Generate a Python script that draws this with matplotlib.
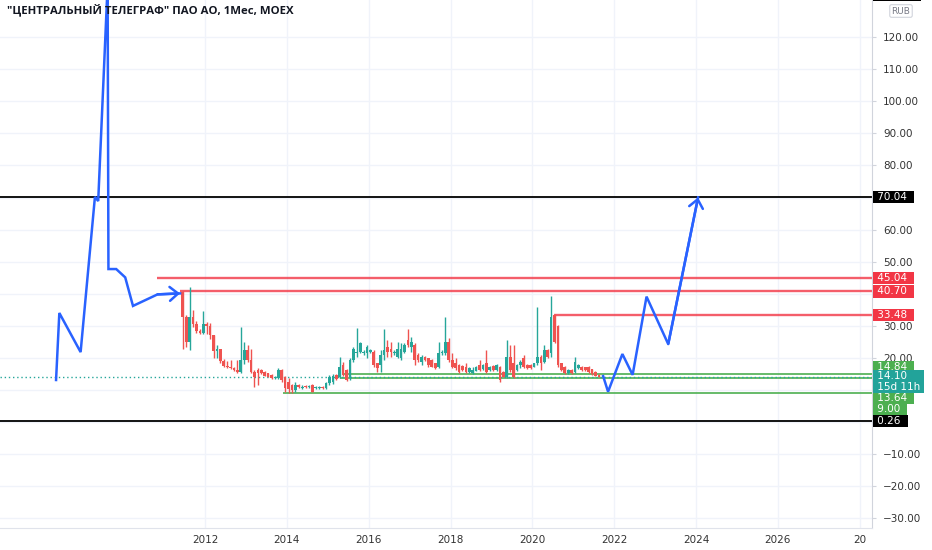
import matplotlib
matplotlib.use("Agg")
import matplotlib.pyplot as plt
import pandas as pd
from matplotlib.ticker import FuncFormatter

TITLE = '"ЦЕНТРАЛЬНЫЙ ТЕЛЕГРАФ" ПАО АО, 1Мес, MOEX'

# monthly candles, Jun 2011 .. Aug 2021
months = pd.date_range("2011-06-01", "2021-08-01", freq="MS")
opens = [40.5, 32.8, 25.0, 32.8, 30.5, 28.5, 27.8, 30.5, 29.8, 27.0,
         22.0, 22.8, 18.9, 17.6, 17.3, 16.9, 16.2, 15.7, 19.3, 22.4,
         19.3, 15.7, 16.2, 16.2, 15.7, 15.2, 14.7, 13.6, 13.6, 16.2,
         14.1, 12.6, 11.5, 10.0, 11.5, 10.6, 11.3, 10.8, 11.5, 10.5,
         10.6, 11.0, 10.5, 12.1, 12.4, 14.7, 14.1, 17.8, 16.2, 13.6,
         19.3, 21.4, 21.9, 21.4, 21.4, 21.9, 21.9, 18.3, 17.8, 20.9,
         23.5, 22.9, 21.4, 20.4, 19.9, 21.9, 25.6, 23.5, 24.0, 20.9,
         18.8, 20.4, 19.9, 19.3, 18.3, 17.3, 21.4, 21.4, 25.0, 19.3,
         18.3, 17.8, 17.6, 17.3, 15.7, 15.2, 16.0, 17.8, 16.5, 18.3,
         16.2, 17.5, 16.2, 17.3, 15.7, 14.1, 20.4, 18.3, 16.2, 17.8,
         19.9, 17.8, 17.8, 17.3, 18.3, 20.4, 18.8, 22.4, 21.4, 33.4,
         30.0, 18.3, 17.3, 15.2, 16.2, 15.7, 16.7, 17.3, 17.0, 17.3,
         16.4, 15.7, 14.7]
highs = [40.7, 33.5, 42.2, 34.9, 31.5, 29.0, 34.5, 31.2, 31.0, 27.2,
         24.0, 22.8, 19.5, 19.0, 19.3, 17.3, 19.3, 29.7, 25.0, 24.0,
         22.9, 16.2, 16.7, 16.4, 16.0, 15.4, 15.0, 14.4, 16.7, 16.4,
         14.5, 13.6, 11.8, 12.6, 11.8, 11.4, 11.5, 11.5, 11.8, 11.2,
         11.3, 11.3, 12.4, 14.6, 14.9, 15.0, 20.4, 18.8, 16.5, 19.9,
         23.5, 29.4, 25.0, 22.4, 24.0, 22.9, 22.4, 18.5, 22.4, 29.1,
         25.6, 25.0, 22.4, 25.0, 24.5, 24.5, 29.0, 26.6, 24.5, 21.4,
         20.9, 20.6, 20.1, 19.5, 18.5, 25.0, 22.4, 32.7, 26.1, 21.4,
         19.9, 18.0, 17.8, 18.3, 17.0, 17.3, 17.5, 19.3, 18.0, 22.4,
         17.5, 17.8, 18.0, 17.5, 16.0, 25.6, 24.0, 24.0, 18.0, 19.3,
         20.9, 18.0, 18.0, 18.5, 35.9, 20.9, 24.0, 22.9, 39.3, 33.6,
         30.3, 18.5, 17.5, 16.5, 16.4, 20.2, 18.0, 17.5, 17.3, 17.5,
         16.5, 15.8, 14.9]
lows = [22.9, 23.5, 22.4, 29.5, 27.8, 27.3, 27.3, 27.6, 26.0, 20.0,
        20.0, 18.3, 17.0, 16.9, 16.5, 15.8, 15.2, 15.2, 18.0, 18.8,
        15.2, 11.0, 11.5, 15.0, 14.2, 13.9, 13.4, 13.4, 13.4, 12.6,
        9.5, 9.0, 9.2, 9.5, 10.5, 10.4, 10.5, 10.6, 9.3, 10.3,
        10.4, 10.3, 10.3, 11.6, 12.0, 13.0, 13.6, 14.2, 12.8, 13.1,
        18.8, 20.4, 21.4, 21.0, 19.9, 21.4, 17.3, 15.7, 15.7, 19.3,
        20.4, 20.4, 20.9, 19.9, 19.3, 21.4, 23.5, 21.9, 17.8, 18.8,
        17.8, 19.0, 17.3, 17.0, 16.4, 16.7, 20.9, 20.9, 18.8, 16.7,
        16.2, 15.2, 16.0, 15.2, 15.4, 15.0, 15.8, 16.0, 16.3, 15.2,
        16.0, 16.0, 16.0, 12.6, 13.9, 13.6, 15.7, 13.6, 16.0, 16.7,
        16.7, 16.5, 16.5, 17.1, 17.8, 16.2, 18.3, 19.9, 20.4, 24.5,
        17.3, 16.0, 15.0, 15.0, 15.0, 15.2, 16.5, 16.0, 16.0, 15.4,
        14.7, 14.2, 13.9]
closes = [32.8, 25.0, 32.8, 30.5, 28.5, 27.8, 30.5, 29.8, 27.0, 22.0,
          22.8, 18.9, 17.6, 17.3, 16.9, 16.2, 15.7, 19.3, 22.4, 19.3,
          15.7, 14.1, 15.2, 15.2, 14.5, 14.1, 13.6, 14.1, 16.2, 13.1,
          10.5, 10.3, 10.0, 11.5, 11.0, 11.0, 10.8, 11.2, 9.5, 11.0,
          11.0, 10.5, 12.1, 14.1, 14.5, 13.3, 17.0, 14.7, 13.1, 19.3,
          22.9, 21.9, 24.5, 21.9, 23.5, 22.4, 17.8, 16.7, 20.9, 22.4,
          21.9, 21.9, 21.9, 22.9, 22.9, 23.9, 24.0, 25.0, 19.3, 19.3,
          20.4, 19.3, 17.8, 17.3, 16.7, 21.4, 21.9, 25.0, 19.3, 17.3,
          16.7, 15.7, 16.2, 15.7, 16.7, 16.2, 17.3, 16.2, 17.8, 15.7,
          17.3, 16.2, 17.8, 13.1, 14.1, 20.4, 16.2, 14.1, 17.8, 18.8,
          17.3, 16.7, 16.7, 18.3, 20.4, 18.3, 22.4, 20.4, 32.8, 25.0,
          17.8, 16.2, 15.2, 16.2, 15.2, 18.8, 17.8, 16.2, 16.2, 15.7,
          15.0, 14.5, 14.1]

# hand-drawn projection path (decimal years, price)
past_x = [2008.36, 2008.44, 2008.96, 2009.31, 2009.39, 2009.62, 2009.64,
          2009.83, 2010.05, 2010.24, 2010.84, 2011.39]
past_y = [13.1, 34.0, 21.8, 70.2, 68.9, 136.3, 47.7, 47.7, 45.1, 36.2,
          39.8, 40.1]
fut_x = [2021.73, 2021.85, 2022.20, 2022.45, 2022.79, 2023.32, 2024.05]
fut_y = [14.3, 9.45, 21.2, 14.7, 39.1, 24.3, 70.04]

# horizontal levels
black_levels = [70.04, 0.26]
red_levels = [45.04, 40.70, 33.48]
red_start = [2010.83, 2011.39, 2020.54]
green_levels = [14.84, 13.64, 9.00]
green_start = [2015.35, 2015.30, 2013.90]
last_price = 14.10

year_ticks = [2012, 2014, 2016, 2018, 2020, 2022, 2024, 2026, 2028]
year_labels = ["2012", "2014", "2016", "2018", "2020", "2022", "2024", "2026", "20"]
price_ticks = [120, 110, 100, 90, 80, 70, 60, 50, 40, 30, 20, 10, 0, -10, -20, -30]
hidden_ticks = [70, 40, 10, 0]  # covered by the level tags

UP = "#26a69a"
DOWN = "#ef5350"
RED = "#f23645"
GREEN = "#4caf50"
BLUE = "#2962ff"

x0, x1 = 2006.99, 2028.30
y0, y1 = -33.05, 131.6


def price_fmt(v, pos):
    if round(v) in hidden_ticks:
        return ""
    return f"{v:.2f}".replace("-", "\u2212")


fig = plt.figure(figsize=(9.32, 5.5), dpi=100)
ax = fig.add_axes([0, 22 / 550, 872 / 932, 528 / 550])
ax.set_xlim(x0, x1)
ax.set_ylim(y0, y1)

ax.set_xticks(year_ticks)
ax.set_xticklabels(year_labels)
ax.set_yticks(price_ticks)
ax.grid(True, color="#f0f3fa", lw=1)
ax.set_axisbelow(True)

ax.yaxis.tick_right()
ax.yaxis.set_major_formatter(FuncFormatter(price_fmt))
ax.tick_params(axis="y", length=3, color="#d1d4dc", labelsize=7.5, labelcolor="#333333", pad=5)
ax.tick_params(axis="x", length=0, labelsize=7.5, labelcolor="#333333", pad=5)
for s in ["top", "left"]:
    ax.spines[s].set_visible(False)
ax.spines["right"].set_color("#d1d4dc")
ax.spines["bottom"].set_color("#e0e3eb")

# candles
xs = [d.year + (d.month - 0.5) / 12 for d in months]
cols = [UP if c >= o else DOWN for o, c in zip(opens, closes)]
ax.vlines(xs, lows, highs, colors=cols, lw=1.0, zorder=3)
ax.bar(xs, [c - o for o, c in zip(opens, closes)], bottom=opens, width=0.066,
       color=cols, zorder=3)

# levels
for v in black_levels:
    ax.axhline(v, color="black", lw=1.3, zorder=2)
for v, s in zip(red_levels, red_start):
    ax.hlines(v, s, x1, color=RED, lw=1.7, alpha=0.8, zorder=2)
for v, s in zip(green_levels, green_start):
    ax.hlines(v, s, x1, color=GREEN, lw=1.4, alpha=0.85, zorder=2)
ax.axhline(last_price, color=UP, lw=1, ls=(0, (1, 2)), zorder=2)

# drawn path with arrowheads
for px, py in [(past_x, past_y), (fut_x, fut_y)]:
    ax.plot(px, py, color=BLUE, lw=1.8, zorder=4, solid_joinstyle="miter")
    ax.annotate("", xy=(px[-1], py[-1]), xytext=(px[-2], py[-2]),
                arrowprops=dict(arrowstyle="->,head_length=0.6,head_width=0.5",
                                color=BLUE, lw=1.8, shrinkA=0, shrinkB=0),
                zorder=5)

# price tags on the scale
tags = [
    (70.04, "70.04", "black", 0),
    (45.04, "45.04", RED, 0),
    (40.70, "40.70", RED, 0),
    (33.48, "33.48", RED, 0),
    (14.84, "14.84", GREEN, 5.5),
    (13.64, "13.64", GREEN, -14.3),
    (9.00, "9.00", GREEN, -11.6),
    (0.26, "0.26", "black", 0),
]
for v, t, c, dy in tags:
    ax.annotate(f" {t}  ", xy=(1, v), xycoords=("axes fraction", "data"),
                xytext=(1.2, dy), textcoords="offset points", ha="left", va="center",
                fontsize=7.5, color="white", annotation_clip=False, zorder=6,
                bbox=dict(boxstyle="square,pad=0.1", fc=c, ec="none"))
ax.annotate(" 14.10\n 15d 11h ", xy=(1, last_price), xycoords=("axes fraction", "data"),
            xytext=(1.2, -3.5), textcoords="offset points", ha="left", va="center",
            fontsize=7.5, color="white", linespacing=1.05, annotation_clip=False, zorder=7,
            bbox=dict(boxstyle="square,pad=0.1", fc="#22a39a", ec="none"))
ax.annotate(" 131.36  ", xy=(1, 1), xycoords="axes fraction", xytext=(1.2, 3.5),
            textcoords="offset points", ha="left", va="center", fontsize=7.5,
            color="white", annotation_clip=False, zorder=6,
            bbox=dict(boxstyle="square,pad=0.1", fc="black", ec="none"))
fig.text(901 / 932, 1 - 11 / 550, "RUB", fontsize=6.5, color="#787b86", ha="center",
         va="center", bbox=dict(boxstyle="round,pad=0.2", fc="white", ec="#d1d4dc", lw=0.8))

fig.text(7 / 932, 1 - 11 / 550, TITLE, fontsize=8.2, fontweight="bold",
         family="Open Sans", color="#131722", ha="left", va="center")

fig.savefig("out.png", dpi=100)
